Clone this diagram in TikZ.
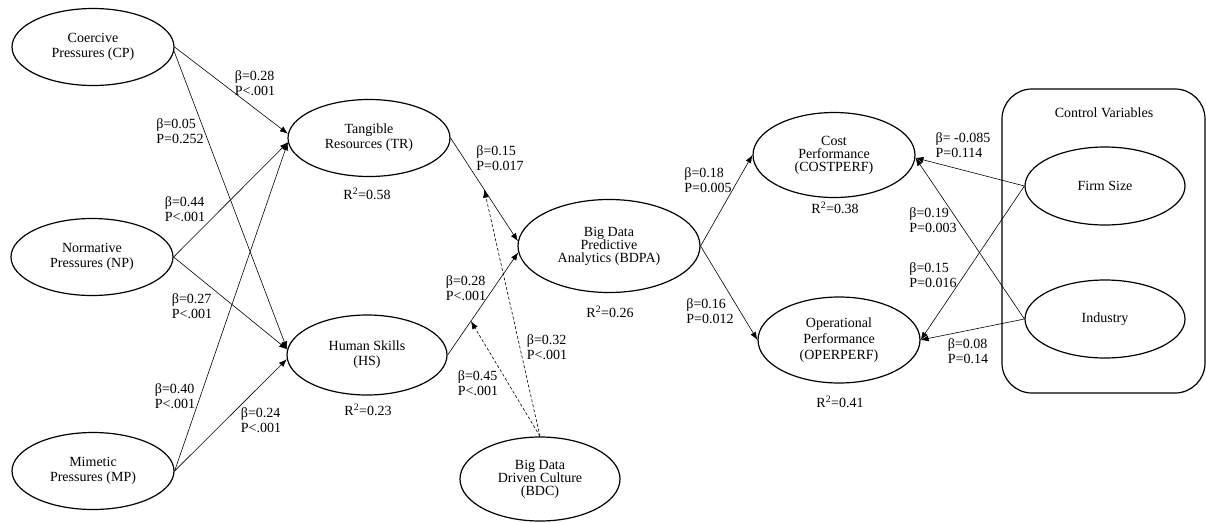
\documentclass[tikz,border=0pt]{standalone}
\usepackage{fontspec}
\setmainfont{Liberation Serif}
\usetikzlibrary{arrows.meta,shapes.geometric}

\begin{document}
\begin{tikzpicture}[x=1pt, y=-1pt, every node/.style={font=\fontsize{14}{15}\selectfont}, >={Latex[length=8pt,width=6pt]}, lv/.style={draw, ellipse, line width=1.2pt, minimum width=162pt, minimum height=77pt, inner sep=0pt, align=center}, est/.style={align=left, inner sep=0pt}, link/.style={line width=0.6pt, ->}]
	\useasboundingbox (0,0) rectangle (1206,522);
	% control variables frame
	\draw[line width=1.2pt, rounded corners=30pt] (1002,89) rectangle (1205,393);
	\node (ctrl) at (1104,113) {Control Variables};
	% constructs
	\node[lv] (CP) at (93,47) {Coercive\\Pressures (CP)};
	\node[lv] (NP) at (92,257) {Normative\\Pressures (NP)};
	\node[lv] (MP) at (93,471) {Mimetic\\Pressures (MP)};
	\node[lv] (TR) at (369,138) {Tangible\\Resources (TR)};
	\node[lv, minimum width=160pt, minimum height=80pt] (HS) at (367,355) {Human Skills\\(HS)};
	\node[lv, minimum width=182pt, minimum height=93pt, font=\fontsize{14}{13}\selectfont] (BDPA) at (609,246) {Big Data\\Predictive\\Analytics (BDPA)};
	\node[lv, minimum width=160pt, minimum height=84pt, font=\fontsize{14}{13}\selectfont] (BDC) at (540,479) {Big Data\\Driven Culture\\(BDC)};
	\node[lv, minimum height=85pt, font=\fontsize{14}{13}\selectfont] (COST) at (834,155) {Cost\\Performance\\(COSTPERF)};
	\node[lv, minimum height=86pt, font=\fontsize{14}{16}\selectfont] (OPER) at (839,340) {Operational\\Performance\\(OPERPERF)};
	\node[lv, minimum width=160pt, minimum height=78pt] (FS) at (1105,186) {Firm Size};
	\node[lv, minimum width=160pt, minimum height=78pt] (IND) at (1105,319) {Industry};
	% structural paths
	\foreach \a/\b in {CP.east/TR.177, CP.357/HS.176, NP.east/TR.183, NP.east/HS.176, MP.east/TR.183, MP.east/HS.183, BDPA.east/COST.west, BDPA.east/OPER.west, FS.west/COST.358, FS.west/OPER.east, IND.west/COST.358, IND.west/OPER.east} {\draw[link] (\a) -- (\b);}
	\draw[link] (TR.east) -- coordinate[pos=0.5] (mTR) (BDPA.177);
	\draw[link] (HS.east) -- coordinate[pos=0.33] (mHS) (BDPA.184);
	% moderation by BDC
	\foreach \m in {mTR, mHS} {\draw[link, dash pattern=on 3pt off 2pt] (BDC.north) -- (\m);}
	% estimates
	\node[est] (e1) at (255,83) {β=0.28\\P<.001};
	\node[est] (e2) at (180,131) {β=0.05\\P=0.252};
	\node[est] (e3) at (185,209) {β=0.44\\P<.001};
	\node[est] (e4) at (192,306) {β=0.27\\P<.001};
	\node[est] (e5) at (175,396) {β=0.40\\P<.001};
	\node[est] (e6) at (261,420) {β=0.24\\P<.001};
	\node[est] (e7) at (500,158) {β=0.15\\P=0.017};
	\node[est] (e8) at (466,288) {β=0.28\\P<.001};
	\node[est] (e9) at (547,347) {β=0.32\\P<.001};
	\node[est] (e10) at (478,383) {β=0.45\\P<.001};
	\node[est] (e11) at (708,180) {β=0.18\\P=0.005};
	\node[est] (e12) at (710,311) {β=0.16\\P=0.012};
	\node[est] (e13) at (963,145) {β= -0.085\\P=0.114};
	\node[est] (e14) at (933,220) {β=0.19\\P=0.003};
	\node[est] (e15) at (933,275) {β=0.15\\P=0.016};
	\node[est] (e16) at (968,351) {β=0.08\\P=0.14};
	% explained variance
	\node (rTR) at (367,194) {R\textsuperscript{2}=0.58};
	\node (rHS) at (368,410) {R\textsuperscript{2}=0.23};
	\node (rBDPA) at (610,312) {R\textsuperscript{2}=0.26};
	\node (rCOST) at (835,208) {R\textsuperscript{2}=0.38};
	\node (rOPER) at (840,402) {R\textsuperscript{2}=0.41};
\end{tikzpicture}
\end{document}
